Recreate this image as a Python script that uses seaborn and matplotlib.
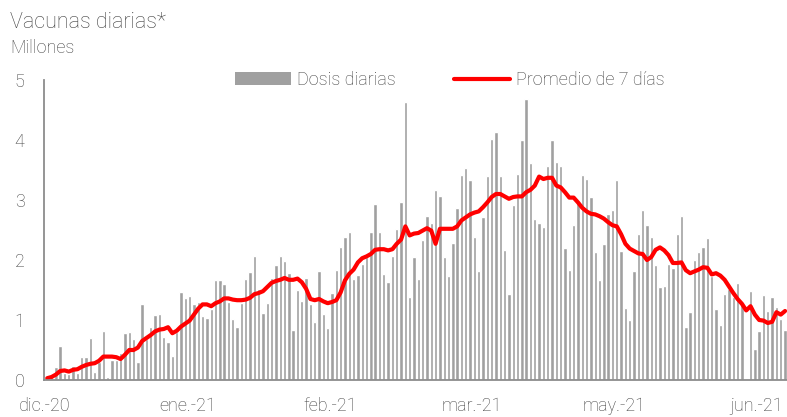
import numpy as np
import pandas as pd
import matplotlib
matplotlib.use("Agg")
import matplotlib.pyplot as plt
import seaborn as sns
from matplotlib.patches import Patch
from matplotlib.lines import Line2D

# daily doses (millions), one value per day from mid-Dec 2020
dosis = [
    0.04, 0.07, 0.22, 0.56, 0.11, 0.10, 0.24, 0.11, 0.38, 0.39,
    0.70, 0.13, 0.30, 0.81, 0.05, 0.34, 0.34, 0.45, 0.78, 0.80,
    0.68, 0.30, 1.26, 0.68, 0.88, 1.08, 1.10, 0.72, 0.64, 0.40,
    0.80, 1.46, 1.37, 1.40, 1.27, 1.30, 1.07, 1.03, 1.18, 1.66,
    1.66, 1.60, 1.30, 1.02, 0.88, 1.29, 1.69, 1.80, 2.07, 1.51,
    1.12, 1.28, 1.70, 1.91, 2.07, 1.99, 1.78, 0.84, 1.50, 1.31,
    1.70, 1.26, 0.97, 1.82, 1.10, 0.87, 1.45, 1.83, 2.21, 2.38,
    2.46, 1.68, 1.75, 1.93, 2.05, 2.46, 2.94, 2.46, 1.76, 1.63,
    2.06, 2.51, 2.96, 4.63, 1.38, 2.05, 1.68, 2.33, 2.73, 2.61,
    3.16, 3.07, 2.05, 1.73, 2.29, 2.87, 3.41, 3.54, 3.33, 2.38,
    1.81, 2.71, 3.40, 4.01, 4.13, 3.40, 2.16, 1.43, 2.92, 3.44,
    4.00, 4.68, 3.62, 2.68, 2.62, 2.55, 3.56, 4.00, 3.63, 3.57,
    2.20, 1.83, 2.59, 2.95, 3.41, 3.35, 3.05, 2.14, 1.66, 2.26,
    2.76, 2.84, 3.34, 2.15, 1.20, 1.00, 1.82, 2.44, 2.84, 2.59,
    2.39, 1.91, 1.55, 1.56, 1.94, 1.86, 2.43, 2.74, 0.88, 1.14,
    2.00, 2.13, 2.22, 2.36, 1.74, 1.19, 0.91, 1.44, 1.52, 1.39,
    1.62, 1.28, 0.00, 1.48, 0.51, 0.82, 1.41, 1.15, 1.38, 1.22,
    1.01, 0.84,
]

# 7-day average
promedio = [
    0.03, 0.05, 0.09, 0.15, 0.16, 0.14, 0.17, 0.18, 0.22, 0.25,
    0.27, 0.28, 0.32, 0.39, 0.39, 0.39, 0.38, 0.35, 0.42, 0.50,
    0.50, 0.54, 0.65, 0.70, 0.75, 0.81, 0.84, 0.85, 0.88, 0.78,
    0.82, 0.89, 0.94, 0.99, 1.09, 1.19, 1.26, 1.26, 1.23, 1.28,
    1.31, 1.36, 1.36, 1.34, 1.33, 1.33, 1.34, 1.37, 1.43, 1.45,
    1.48, 1.55, 1.62, 1.65, 1.67, 1.70, 1.67, 1.67, 1.69, 1.63,
    1.52, 1.35, 1.33, 1.35, 1.31, 1.28, 1.30, 1.33, 1.46, 1.66,
    1.77, 1.84, 1.96, 2.03, 2.06, 2.10, 2.17, 2.18, 2.18, 2.16,
    2.18, 2.27, 2.34, 2.56, 2.41, 2.44, 2.45, 2.49, 2.53, 2.49,
    2.27, 2.52, 2.52, 2.52, 2.52, 2.56, 2.66, 2.71, 2.76, 2.79,
    2.81, 2.88, 2.96, 3.05, 3.10, 3.10, 3.06, 3.02, 3.05, 3.06,
    3.06, 3.13, 3.17, 3.24, 3.39, 3.35, 3.37, 3.37, 3.24, 3.21,
    3.13, 3.04, 3.04, 2.96, 2.87, 2.81, 2.77, 2.76, 2.73, 2.69,
    2.63, 2.58, 2.56, 2.43, 2.27, 2.19, 2.15, 2.11, 2.10, 2.00,
    2.05, 2.17, 2.21, 2.16, 2.08, 1.95, 1.95, 1.96, 1.83, 1.78,
    1.81, 1.84, 1.88, 1.87, 1.76, 1.78, 1.74, 1.67, 1.56, 1.45,
    1.35, 1.27, 1.16, 1.23, 1.09, 1.00, 0.99, 0.95, 0.97, 1.13,
    1.09, 1.15,
]

tick_labels = ["dic.-20", "ene.-21", "feb.-21", "mar.-21", "may.-21", "jun.-21"]
tick_step = 33  # days between labelled ticks

df = pd.DataFrame({"dia": np.arange(len(dosis)), "dosis": dosis, "promedio": promedio})

sns.set_style("white")
plt.rcParams["font.family"] = ["Roboto", "DejaVu Sans"]
plt.rcParams["font.weight"] = "light"

BAR = "#a0a0a0"
RED = "#ff0000"
AXC = "#8c8c8c"
TXT = "#404040"

fig = plt.figure(figsize=(7.87, 4.17), dpi=100)
ax = fig.add_axes([44 / 787, 1 - 380 / 417, 743 / 787, 300 / 417])

sns.barplot(data=df, x="dia", y="dosis", color=BAR, width=0.78,
            native_scale=True, saturation=1, ax=ax)
sns.lineplot(data=df, x="dia", y="promedio", color=RED, linewidth=3, ax=ax)

ax.set_ylim(0, 5)
ax.set_xlim(-0.75, len(dosis) - 0.55)
ax.set_yticks(range(0, 6))
ax.set_xticks(np.arange(len(tick_labels)) * tick_step - 0.5)
ax.set_xticklabels(tick_labels)
ax.set_xlabel("")
ax.set_ylabel("")

for side in ["top", "right"]:
    ax.spines[side].set_visible(False)
for side in ["left", "bottom"]:
    ax.spines[side].set_color(AXC)
    ax.spines[side].set_linewidth(1.3)
ax.tick_params(axis="both", colors=AXC, labelcolor=TXT, labelsize=13,
               length=5, width=1.3, direction="out")
ax.tick_params(axis="y", pad=9)
ax.tick_params(axis="x", pad=7)

handles = [Patch(facecolor=BAR, edgecolor="none"),
           Line2D([], [], color=RED, linewidth=3)]
ax.legend(handles, ["Dosis diarias", "Promedio de 7 días"], ncol=2,
          loc="center", bbox_to_anchor=(0.546, 1.0), frameon=False,
          fontsize=13, handlelength=3.1, handletextpad=0.35,
          columnspacing=3.2, labelcolor=TXT)

fig.text(10 / 787, 1 - 28 / 417, "Vacunas diarias*", fontsize=15.5, color=TXT,
         va="baseline")
fig.text(10 / 787, 1 - 53 / 417, "Millones", fontsize=13, color=TXT,
         va="baseline")

fig.savefig("out.png", dpi=100)
